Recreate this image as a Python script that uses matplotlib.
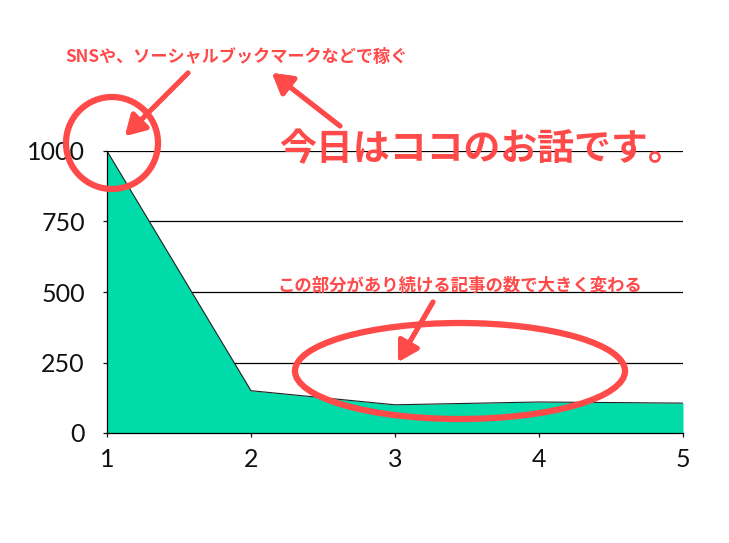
import matplotlib
matplotlib.use("Agg")
import matplotlib.pyplot as plt
from matplotlib.patches import Ellipse

plt.rcParams['font.family'] = ['Noto Sans CJK JP', 'DejaVu Sans']

x = [1, 2, 3, 4, 5]
values = [1000, 150, 100, 110, 106]
yticks = [0, 250, 500, 750, 1000]

RED = '#ff4a4a'
GREEN = '#00dba9'

fig = plt.figure(figsize=(7.29, 5.43), dpi=100)
ax = fig.add_axes([107/729, 110/543, 576/729, 282/543])
ax.fill_between(x, values, 0, color=GREEN, linewidth=0, zorder=2)
ax.plot(x, values, color='#222222', linewidth=0.8, zorder=3)
ax.set_xlim(1, 5)
ax.set_ylim(0, 1000)
ax.set_xticks(x)
ax.set_yticks(yticks)
for v in yticks[1:]:
    ax.axhline(v, color='black', linewidth=0.9, zorder=1)
for s in ['top', 'right']:
    ax.spines[s].set_visible(False)
ax.spines['left'].set_linewidth(0.9)
ax.spines['bottom'].set_linewidth(0.9)
ax.spines['left'].set_zorder(4)
ax.spines['bottom'].set_zorder(4)
ax.tick_params(axis='both', length=3, width=0.9, colors='#111111')
ax.tick_params(axis='y', pad=13)
ax.tick_params(axis='x', pad=8)
for lab in ax.get_xticklabels() + ax.get_yticklabels():
    lab.set_family(['Lato', 'DejaVu Sans'])
    lab.set_fontweight('normal')
    lab.set_fontsize(18)
    lab.set_color('#111111')

def fx(px):
    return px / 729
def fy(py):
    return 1 - py / 543

fig.text(fx(65), fy(57), 'SNSや、ソーシャルブックマークなどで稼ぐ', color=RED,
         fontsize=12.3, fontweight='bold', va='center', ha='left')
fig.text(fx(279), fy(150), '今日はココのお話です。', color=RED,
         fontsize=26.6, fontweight='bold', va='center', ha='left')
fig.text(fx(277), fy(286), 'この部分があり続ける記事の数で大きく変わる', color=RED,
         fontsize=12.5, fontweight='bold', va='center', ha='left')

arrow = dict(arrowstyle='-|>,head_length=1.2,head_width=0.7', color=RED, lw=3.5,
             shrinkA=0, shrinkB=0)
fig.add_artist(plt.annotate('', xy=(fx(125), fy(136)), xytext=(fx(188), fy(73)),
                            xycoords='figure fraction', textcoords='figure fraction',
                            arrowprops=arrow))
fig.add_artist(plt.annotate('', xy=(fx(272), fy(73)), xytext=(fx(340), fy(126)),
                            xycoords='figure fraction', textcoords='figure fraction',
                            arrowprops=arrow))
fig.add_artist(plt.annotate('', xy=(fx(398), fy(362)), xytext=(fx(433), fy(302)),
                            xycoords='figure fraction', textcoords='figure fraction',
                            arrowprops=arrow))

circ = Ellipse((fx(112), fy(143)), 92/729, 92/543, transform=fig.transFigure,
               fill=False, edgecolor=RED, linewidth=4.5, zorder=10)
fig.add_artist(circ)
ell = Ellipse((fx(460), fy(371)), 330/729, 96/543, transform=fig.transFigure,
              fill=False, edgecolor=RED, linewidth=4.5, zorder=10)
fig.add_artist(ell)

fig.savefig('out.png', dpi=100)
